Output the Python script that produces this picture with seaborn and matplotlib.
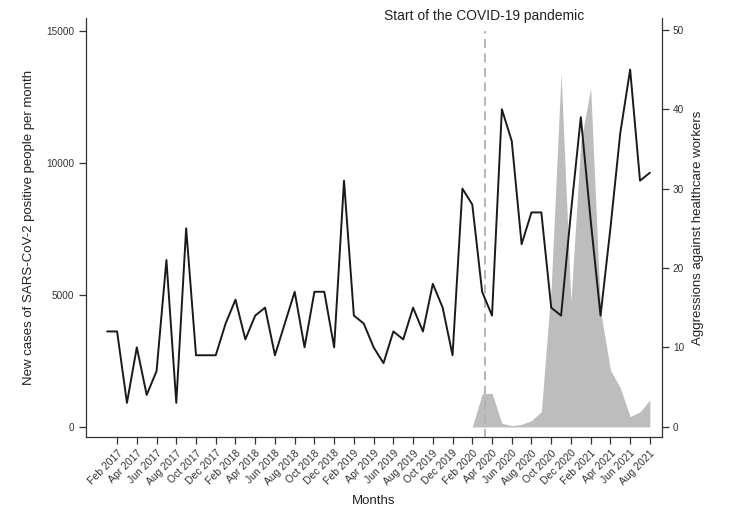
import numpy as np
import pandas as pd
import matplotlib
matplotlib.use("Agg")
import matplotlib.pyplot as plt
import seaborn as sns

# ---------------- data ----------------
months = [f"{m} {y}" for y in range(2017, 2022)
          for m in ["Jan", "Feb", "Mar", "Apr", "May", "Jun",
                    "Jul", "Aug", "Sep", "Oct", "Nov", "Dec"]][:56]  # Jan 2017 .. Aug 2021

aggressions = [12, 12, 3, 10, 4, 7, 21, 3, 25, 9, 9, 9,
               13, 16, 11, 14, 15, 9, 13, 17, 10, 17, 17, 10,
               31, 14, 13, 10, 8, 12, 11, 15, 12, 18, 15, 9,
               30, 28, 17, 14, 40, 36, 23, 27, 27, 15, 14, 27,
               39, 26, 14, 25, 37, 45, 31, 32]

cases_start = "Feb 2020"
cases = [0, 1250, 1280, 140, 50, 100, 240, 580, 5300, 13400, 4750,
         10800, 12830, 4400, 2160, 1480, 390, 570, 1020]

tick_labels = [months[i] for i in range(1, 56, 2)]
left_ticks = [0, 5000, 10000, 15000]
right_ticks = [0, 10, 20, 30, 40, 50]
covid_start = 38.25  # ~9 March 2020, in month-index units

# ---------------- build frames ----------------
df_line = pd.DataFrame({"idx": np.arange(len(months)), "month": months,
                        "aggr": aggressions})
c0 = months.index(cases_start)
df_cases = pd.DataFrame({"idx": np.arange(c0, c0 + len(cases)), "cases": cases})

# ---------------- style ----------------
sns.set_style("ticks")
plt.rcParams["font.family"] = ["Liberation Sans", "DejaVu Sans"]

fig = plt.figure(figsize=(7.29, 5.30), dpi=100)
ax = fig.add_axes([0.1173, 0.1755, 0.7904, 0.7905])
ax2 = ax.twinx()

# area (left axis)
ax.fill_between(df_cases["idx"], 0, df_cases["cases"], color="#bdbdbd",
                linewidth=0, zorder=1)
# dashed start-of-pandemic line
ax.vlines(covid_start, -400, 15000, colors="#b0b0b0", linestyles=(0, (5, 3)),
          linewidth=1.3, zorder=3)
ax.text(covid_start, 1.005, "Start of the COVID-19 pandemic",
        transform=ax.get_xaxis_transform(), ha="center", va="center",
        fontsize=10, color="#222222")

# line (right axis)
sns.lineplot(data=df_line, x="idx", y="aggr", ax=ax2, color="#1a1a1a",
             linewidth=1.4, zorder=4)

ax.set_xlim(-2.2, 56.2)
ax.set_ylim(-380, 15490)
ax2.set_ylim(-1.3, 51.5)

ax.set_xticks(list(range(1, 56, 2)))
ax.set_xticklabels(tick_labels, rotation=45, ha="right", rotation_mode="anchor",
                   fontsize=7.5, color="#333333")
ax.set_yticks(left_ticks)
ax.set_yticklabels([str(v) for v in left_ticks], fontsize=7.2, color="#333333")
ax2.set_yticks(right_ticks)
ax2.set_yticklabels([str(v) for v in right_ticks], fontsize=7.2, color="#333333")

ax.set_xlabel("Months", fontsize=9.5, color="#222222", labelpad=6)
ax.set_ylabel("New cases of SARS-CoV-2 positive people per month",
              fontsize=9.5, color="#222222", labelpad=8)
ax2.set_ylabel("Aggressions against healthcare workers", fontsize=9.5,
               color="#222222", labelpad=6)

for a in (ax, ax2):
    a.spines["top"].set_visible(False)
    for s in a.spines.values():
        s.set_linewidth(0.9)
        s.set_color("#333333")
    a.tick_params(length=5, width=0.9, color="#333333", pad=3)
ax2.spines["left"].set_visible(False)
ax2.spines["bottom"].set_visible(False)
ax.spines["right"].set_visible(False)

fig.savefig("out.png", dpi=100)
